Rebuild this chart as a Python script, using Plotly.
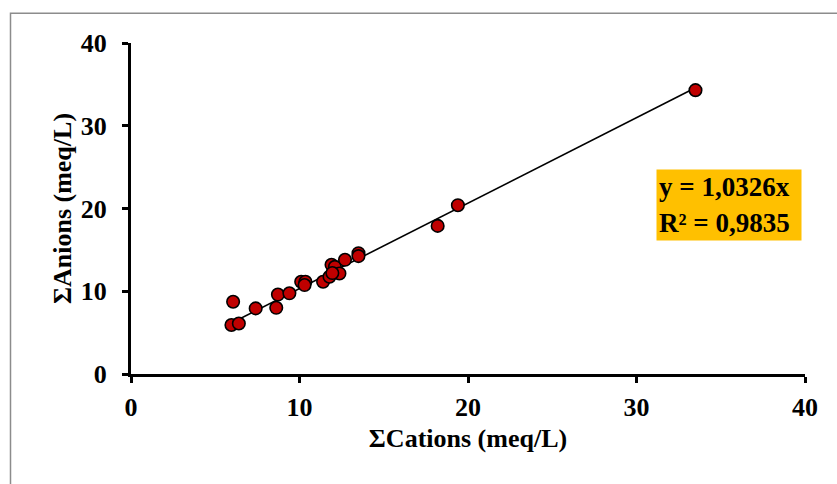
import plotly.graph_objects as go

cations = [5.96, 6.4, 6.06, 7.4, 8.62, 8.72, 9.4, 10.1, 10.35, 10.3, 11.4, 11.78, 11.9, 12.1,
           12.37, 11.95, 12.7, 13.5, 13.5, 18.2, 19.4, 33.5]
anions = [5.92, 6.1, 8.73, 7.93, 8.0, 9.6, 9.75, 11.15, 11.15, 10.75, 11.15, 11.75, 13.2, 12.95,
          12.15, 12.2, 13.8, 14.6, 14.25, 17.9, 20.4, 34.3]
slope = 1.0326
r2_label = "0,9835"
slope_label = "1,0326"
x_ticks = [0, 10, 20, 30, 40]
y_ticks = [0, 10, 20, 30, 40]

FONT = "Liberation Serif"
W, H = 837, 484
ML, MR, MT, MB = 131, 32, 43, 110
pw = W - ML - MR
ph = H - MT - MB

xmin, xmax = min(cations), max(cations)

fig = go.Figure()
fig.add_trace(go.Scatter(
    x=[xmin, xmax], y=[slope * xmin, slope * xmax], mode="lines",
    line=dict(color="black", width=1.6), hoverinfo="skip", showlegend=False))
fig.add_trace(go.Scatter(
    x=cations, y=anions, mode="markers",
    marker=dict(color="#C00000", size=12.5, line=dict(color="black", width=1.6)),
    showlegend=False))

def px2paper_x(px):
    return (px - ML) / pw

def px2paper_y(py):
    return (H - MB - py) / ph

fig.update_layout(
    width=W, height=H,
    margin=dict(l=ML, r=MR, t=MT, b=MB),
    paper_bgcolor="white", plot_bgcolor="white",
    font=dict(family=FONT, color="black", size=26),
    xaxis=dict(range=[0, 40], tickvals=x_ticks, showgrid=False, zeroline=False,
               showline=True, linecolor="black", linewidth=3,
               ticks="outside", ticklen=6, tickwidth=3, tickcolor="black",
               ticklabelstandoff=2,
               tickfont=dict(family=FONT, size=26, color="black", weight="bold"),
               title=dict(text="<b>ΣCations (meq/L)</b>", font=dict(family=FONT, size=26), standoff=8)),
    yaxis=dict(range=[0, 40], tickvals=y_ticks, showgrid=False, zeroline=False,
               showline=True, linecolor="black", linewidth=3,
               ticks="outside", ticklen=6, tickwidth=3, tickcolor="black",
               ticklabelstandoff=10,
               tickfont=dict(family=FONT, size=26, color="black", weight="bold"),
               title=dict(text="<b>ΣAnions (meq/L)</b>", font=dict(family=FONT, size=26), standoff=2)),
    shapes=[dict(type="rect", xref="paper", yref="paper",
                 x0=px2paper_x(10.5), x1=px2paper_x(W + 5),
                 y0=px2paper_y(H + 5), y1=px2paper_y(13.3),
                 line=dict(color="#8c8c8c", width=1.5), fillcolor="rgba(0,0,0,0)", layer="below")],
    annotations=[dict(xref="paper", yref="paper",
                      x=px2paper_x(729), y=px2paper_y(205), xanchor="center", yanchor="middle",
                      text=f"<b>y = {slope_label}x<br>R² = {r2_label}</b>",
                      align="left", showarrow=False, bgcolor="#FFC000",
                      width=140, height=66, borderpad=2,
                      font=dict(family=FONT, size=27, color="black"))],
)

fig.write_html("out.html")
